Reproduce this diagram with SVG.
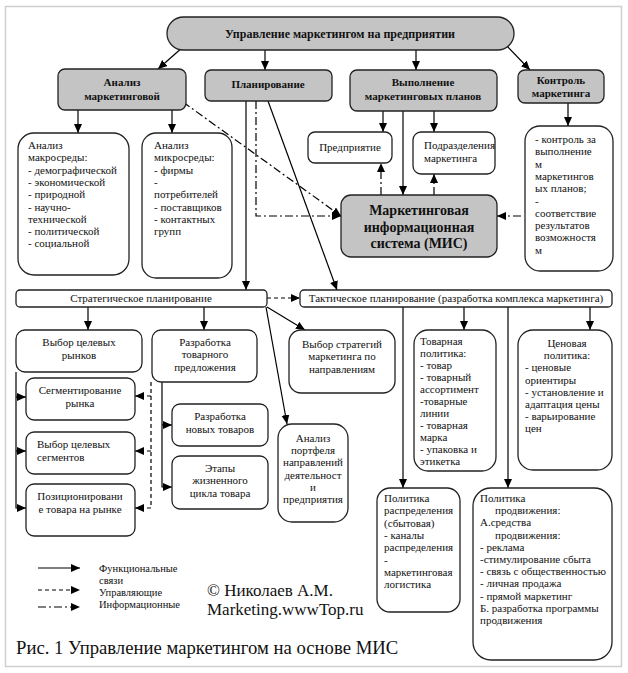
<svg xmlns="http://www.w3.org/2000/svg" width="628" height="673" viewBox="0 0 628 673">
<defs>
<marker id="ah" markerUnits="userSpaceOnUse" markerWidth="10" markerHeight="9" refX="9" refY="4" orient="auto"><path d="M0,0 L9,4 L0,8 z" fill="#000"/></marker>
<style>
text{font-family:'Liberation Serif','DejaVu Serif',serif;font-size:11px;fill:#111}
.b{font-weight:bold}
.c{text-anchor:middle}
.f10{font-size:10.5px}
.f12{font-size:12px}
.f14{font-size:14px}
.f17{font-size:17px}
.f19{font-size:18.7px}
.g{fill:#c4c4c4;stroke:#222;stroke-width:1.3}
.w{fill:#fff;stroke:#222;stroke-width:1.3}
.s{fill:none;stroke:#000;stroke-width:1.2;marker-end:url(#ah)}
.d{fill:none;stroke:#000;stroke-width:1.2;stroke-dasharray:4 3;marker-end:url(#ah)}
.dd{fill:none;stroke:#000;stroke-width:1.2;stroke-dasharray:8 3 2 3;marker-end:url(#ah)}
</style>
</defs>
<rect x="0" y="0" width="628" height="673" fill="#fff"/>
<rect x="5.5" y="6.5" width="616" height="660" fill="none" stroke="#cfcfcf" stroke-width="1.5"/>

<g id="connectors">
<path class="s" d="M183,47 L158,69"/>
<path class="s" d="M265,50 V70"/>
<path class="s" d="M416,50 V70"/>
<path class="s" d="M507,46 L530,70"/>
<path class="s" d="M78,110 V133"/>
<path class="s" d="M172,110 V133"/>
<path class="s" d="M383,111 V132"/>
<path class="s" d="M434,111 V132"/>
<path class="s" d="M403,111 V195"/>
<path class="s" d="M568,103 V126"/>
<path class="dd" d="M381,195 V163"/>
<path class="dd" d="M434,195 V174"/>
<path class="dd" d="M521,216 H497"/>
<path class="dd" d="M183,102 L341,216"/>
<path class="dd" d="M256,101 V216 H341"/>
<path class="s" d="M246,101 V290"/>
<path class="s" d="M268,101 L337,290"/>
<path class="d" d="M267,298 H300"/>
<path class="s" d="M88,307 V330"/>
<path class="s" d="M204,307 V330"/>
<path class="s" d="M267,307 L305,330"/>
<path class="s" d="M266,307 L287,424"/>
<path class="s" d="M16,372 V508 H26"/>
<path class="s" d="M16,397 H26"/>
<path class="s" d="M16,451 H26"/>
<path class="d" d="M151,382 V508 H135"/>
<path class="d" d="M151,396 H135"/>
<path class="d" d="M151,451 H135"/>
<path class="s" d="M162,382 V487 H172"/>
<path class="s" d="M162,425 H172"/>
<path class="s" d="M464,307 V330"/>
<path class="s" d="M590,307 V330"/>
<path class="s" d="M403,307 V488"/>
<path class="s" d="M508,307 V488"/>
</g>

<g id="top"><rect class="g" x="167" y="17" width="347" height="33" rx="16.5"/><text class="b c f12" x="340" y="38">Управление маркетингом на предприятии</text></g>
<g id="analysis"><rect class="g" x="58" y="69" width="128" height="41" rx="7"/><text class="b c" x="122" y="86"><tspan x="122">Анализ</tspan><tspan x="122" dy="14">маркетинговой</tspan></text></g>
<g id="planning"><rect class="g" x="205" y="70" width="127" height="31" rx="6"/><text class="b c" x="268" y="88">Планирование</text></g>
<g id="execution"><rect class="g" x="350" y="70" width="147" height="41" rx="7"/><text class="b c" x="423" y="86"><tspan x="423">Выполнение</tspan><tspan x="423" dy="14">маркетинговых планов</tspan></text></g>
<g id="control"><rect class="g" x="518" y="70" width="86" height="33" rx="7"/><text class="b c" x="561" y="84"><tspan x="561">Контроль</tspan><tspan x="561" dy="13">маркетинга</tspan></text></g>

<g id="macro"><rect class="w" x="18" y="133" width="111" height="142" rx="16"/><text y="149"><tspan x="28">Анализ</tspan><tspan x="28" dy="12.3">макросреды:</tspan><tspan x="28" dy="12.3">- демографической</tspan><tspan x="28" dy="12.3">- экономической</tspan><tspan x="28" dy="12.3">- природной</tspan><tspan x="28" dy="12.3">- научно-</tspan><tspan x="28" dy="12.3">технической</tspan><tspan x="28" dy="12.3">- политической</tspan><tspan x="28" dy="12.3">- социальной</tspan></text></g>
<g id="micro"><rect class="w" x="142" y="133" width="90" height="145" rx="14"/><text y="149"><tspan x="154">Анализ</tspan><tspan x="154" dy="12.3">микросреды:</tspan><tspan x="154" dy="12.3">- фирмы</tspan><tspan x="154" dy="12.3">-</tspan><tspan x="154" dy="12.3">потребителей</tspan><tspan x="154" dy="12.3">- поставщиков</tspan><tspan x="154" dy="12.3">- контактных</tspan><tspan x="154" dy="12.3">групп</tspan></text></g>
<g id="enterprise"><rect class="w" x="308" y="132" width="84" height="31" rx="7"/><text class="c" x="350" y="151">Предприятие</text></g>
<g id="divisions"><rect class="w" x="413" y="132" width="82" height="42" rx="8"/><text y="149"><tspan x="424">Подразделения</tspan><tspan x="424" dy="13">маркетинга</tspan></text></g>
<g id="mis"><rect class="g" x="341" y="195" width="156" height="62" rx="10"/><text class="b c f14" x="419" y="215"><tspan x="419">Маркетинговая</tspan><tspan x="419" dy="16.5">информационная</tspan><tspan x="419" dy="16.5">система (МИС)</tspan></text></g>
<g id="control-detail"><rect class="w" x="525" y="126" width="88" height="145" rx="15"/><text y="143"><tspan x="535">- контроль за</tspan><tspan x="535" dy="12.3">выполнение</tspan><tspan x="535" dy="12.3">м</tspan><tspan x="535" dy="12.3">маркетингов</tspan><tspan x="535" dy="12.3">ых планов;</tspan><tspan x="535" dy="12.3">-</tspan><tspan x="535" dy="12.3">соответствие</tspan><tspan x="535" dy="12.3">результатов</tspan><tspan x="535" dy="12.3">возможностя</tspan><tspan x="535" dy="12.3">м</tspan></text></g>

<g id="strategic"><rect class="w" x="16" y="290" width="251" height="17" rx="4"/><text class="c" x="141" y="302">Стратегическое планирование</text></g>
<g id="tactical"><rect class="w" x="300" y="290" width="312" height="17" rx="4"/><text class="c" x="456" y="302">Тактическое планирование (разработка комплекса маркетинга)</text></g>

<g id="target-markets"><rect class="w" x="16" y="330" width="126" height="42" rx="9"/><text class="c" y="346"><tspan x="79">Выбор целевых</tspan><tspan x="79" dy="12.5">рынков</tspan></text></g>
<g id="product-offer"><rect class="w" x="152" y="330" width="105" height="52" rx="9"/><text class="c" y="346"><tspan x="205">Разработка</tspan><tspan x="205" dy="12.3">товарного</tspan><tspan x="205" dy="12.3">предложения</tspan></text></g>
<g id="strategies"><rect class="w" x="289" y="330" width="106" height="63" rx="12"/><text class="c" y="348"><tspan x="342">Выбор стратегий</tspan><tspan x="342" dy="12.3">маркетинга по</tspan><tspan x="342" dy="12.3">направлениям</tspan></text></g>
<g id="segmentation"><rect class="w" x="26" y="378" width="109" height="42" rx="8"/><text class="c" y="394"><tspan x="80">Сегментирование</tspan><tspan x="80" dy="12.5">рынка</tspan></text></g>
<g id="target-segments"><rect class="w" x="26" y="432" width="109" height="42" rx="8"/><text y="448"><tspan x="37">Выбор целевых</tspan><tspan x="37" dy="12.5">сегментов</tspan></text></g>
<g id="positioning"><rect class="w" x="26" y="484" width="109" height="52" rx="8"/><text class="c" y="500"><tspan x="80">Позиционировани</tspan><tspan x="80" dy="12.5">е товара на рынке</tspan></text></g>
<g id="new-products"><rect class="w" x="172" y="404" width="96" height="42" rx="8"/><text class="c" y="420"><tspan x="220">Разработка</tspan><tspan x="220" dy="12.5">новых товаров</tspan></text></g>
<g id="lifecycle"><rect class="w" x="172" y="456" width="96" height="53" rx="8"/><text class="c" y="472"><tspan x="220">Этапы</tspan><tspan x="220" dy="12.3">жизненного</tspan><tspan x="220" dy="12.3">цикла товара</tspan></text></g>
<g id="portfolio"><rect class="w" x="278" y="424" width="70" height="98" rx="14"/><text class="c" y="442"><tspan x="313">Анализ</tspan><tspan x="313" dy="12.2">портфеля</tspan><tspan x="313" dy="12.2">направлений</tspan><tspan x="313" dy="12.2">деятельност</tspan><tspan x="313" dy="12.2">и</tspan><tspan x="313" dy="12.2">предприятия</tspan></text></g>

<g id="product-policy"><rect class="w" x="414" y="330" width="82" height="141" rx="14"/><text y="345"><tspan x="420">Товарная</tspan><tspan x="420" dy="12">политика:</tspan><tspan x="420" dy="12">- товар</tspan><tspan x="420" dy="12">- товарный</tspan><tspan x="420" dy="12">ассортимент</tspan><tspan x="420" dy="12">-товарные</tspan><tspan x="420" dy="12">линии</tspan><tspan x="420" dy="12">- товарная</tspan><tspan x="420" dy="12">марка</tspan><tspan x="420" dy="12">- упаковка и</tspan><tspan x="420" dy="12">этикетка</tspan></text></g>
<g id="price-policy"><rect class="w" x="518" y="330" width="94" height="140" rx="15"/><text y="347"><tspan x="567" text-anchor="middle">Ценовая</tspan><tspan x="567" dy="12.2" text-anchor="middle">политика:</tspan><tspan x="525" dy="12.2">- ценовые</tspan><tspan x="525" dy="12.2">ориентиры</tspan><tspan x="525" dy="12.2">- установление и</tspan><tspan x="525" dy="12.2">адаптация цены</tspan><tspan x="525" dy="12.2">- варьирование</tspan><tspan x="525" dy="12.2">цен</tspan></text></g>
<g id="distribution"><rect class="w" x="377" y="488" width="83" height="124" rx="13"/><text y="502"><tspan x="384">Политика</tspan><tspan x="384" dy="12.3">распределения</tspan><tspan x="384" dy="12.3">(сбытовая)</tspan><tspan x="384" dy="12.3">- каналы</tspan><tspan x="384" dy="12.3">распределения</tspan><tspan x="384" dy="12.3">-</tspan><tspan x="384" dy="12.3">маркетинговая</tspan><tspan x="384" dy="12.3">логистика</tspan></text></g>
<g id="promotion"><rect class="w" x="473" y="488" width="139" height="172" rx="18"/><text y="502"><tspan x="480">Политика</tspan><tspan x="495" dy="12.2">продвижения:</tspan><tspan x="480" dy="12.2">А.средства</tspan><tspan x="495" dy="12.2">продвижения:</tspan><tspan x="480" dy="12.2">- реклама</tspan><tspan x="480" dy="12.2">-стимулирование сбыта</tspan><tspan x="480" dy="12.2">- связь с общественностью</tspan><tspan x="480" dy="12.2">- личная продажа</tspan><tspan x="480" dy="12.2">- прямой маркетинг</tspan><tspan x="480" dy="12.2">Б. разработка программы</tspan><tspan x="480" dy="12.2">продвижения</tspan></text></g>

<g id="legend">
<path class="s" d="M38,568 H80"/>
<path class="d" d="M38,590 H80"/>
<path class="dd" d="M38,607 H80"/>
<text class="f10" y="572"><tspan x="99">Функциональные</tspan><tspan x="99" dy="12">связи</tspan><tspan x="99" dy="12">Управляющие</tspan><tspan x="99" dy="12">Информационные</tspan></text>
<text class="f17" x="207" y="596">© Николаев А.М.</text>
<text class="f17" x="207" y="615">Marketing.wwwTop.ru</text>
<text class="f19" x="16" y="654">Рис. 1 Управление маркетингом на основе МИС</text>
</g>
</svg>
